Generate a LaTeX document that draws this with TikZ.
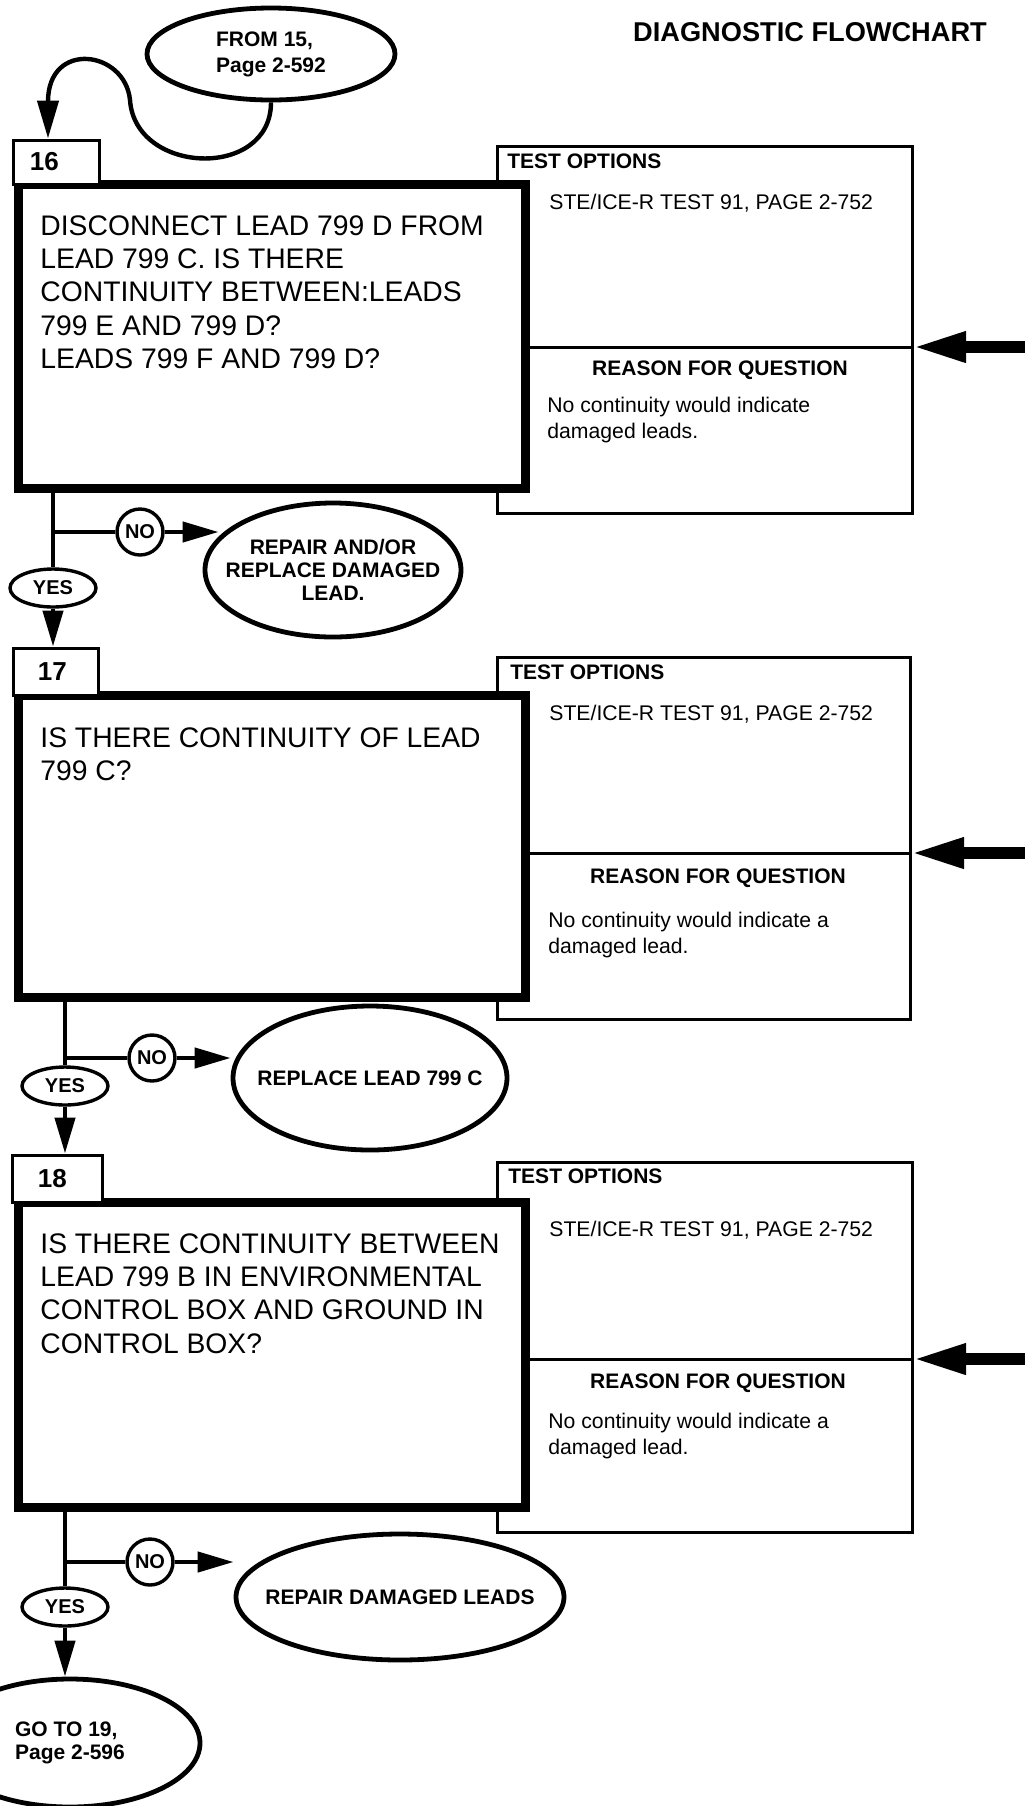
\documentclass[tikz,border=0pt]{standalone}
\usepackage{fontspec}
\setmainfont{Liberation Sans}
\usetikzlibrary{arrows.meta,shapes.geometric}

\begin{document}
\begin{tikzpicture}[x=.5pt,y=-.5pt,
  qbox/.style={draw,line width=4.5pt,fill=white,inner sep=0pt},
  optbox/.style={draw,line width=1.5pt,inner sep=0pt},
  numbox/.style={draw,line width=1.5pt,fill=white,inner sep=0pt,align=left,text width=#1,font=\bfseries\fontsize{13}{15}\selectfont},
  endoval/.style={draw,ellipse,line width=2.4pt,inner xsep=-12pt,inner ysep=0pt,align=center,font=\bfseries\fontsize{10.5}{11.5}\selectfont},
  yesoval/.style={draw,ellipse,line width=1.7pt,inner sep=0pt,minimum width=43pt,minimum height=19pt,font=\bfseries\fontsize{10}{12}\selectfont},
  nocirc/.style={draw,circle,line width=1.7pt,inner sep=0pt,minimum size=23pt,font=\bfseries\fontsize{10}{12}\selectfont},
  qtext/.style={anchor=north west,inner sep=0pt,align=left,font=\fontsize{14.15}{16.7}\selectfont},
  head/.style={inner sep=0pt,font=\bfseries\fontsize{10.5}{12.5}\selectfont},
  small/.style={inner sep=0pt,font=\fontsize{10.6}{13}\selectfont},
  link/.style={line width=2.2pt},
  flow/.style={line width=2.2pt,-{Triangle[length=18pt,width=10pt]}},
  thinline/.style={line width=1.5pt},
  sidearrow/.style={line width=6pt,-{Triangle[length=27pt,width=14pt]}}]
\useasboundingbox (0,0) rectangle (1025,1806);
\clip (0,0) rectangle (1025,1806);

\node[head,font=\bfseries\fontsize{13.6}{16}\selectfont] (title) at (810,32) {DIAGNOSTIC FLOWCHART};
\node[endoval,inner xsep=0pt,align=left,minimum width=124pt,minimum height=46pt,font=\bfseries\fontsize{10.5}{13}\selectfont] (from15) at (271,54) {FROM 15,\\Page 2-592};

% question 16
\node[optbox,minimum width=207.5pt,minimum height=183.5pt] (opt16) at (704.5,329.5) {};
\node[qbox,minimum width=253.5pt,minimum height=152pt] (q16) at (271.5,336) {};
\node[numbox=26pt,minimum width=43pt,minimum height=22pt] (lab16) at (56,162) {16};
\coordinate (d16) at (912,347);
\coordinate (s16) at (1025,347);
\draw[thinline] (q16.east |- d16) -- (d16);
\draw[sidearrow] (s16) -- (d16);
\node[qtext] (t16) at (40,215) {DISCONNECT LEAD 799 D FROM\\LEAD 799 C. IS THERE\\CONTINUITY BETWEEN:LEADS\\799 E AND 799 D?\\LEADS 799 F AND 799 D?};
\node[head,anchor=base west] (to16) at (507,168) {TEST OPTIONS};
\node[small,anchor=base west] (ste16) at (549,209) {STE/ICE-R TEST 91, PAGE 2-752};
\node[head,anchor=base] (rq16) at (720,375) {REASON FOR QUESTION};
\node[small,anchor=north west,align=left] (why16) at (547,397) {No continuity would indicate\\damaged leads.};
\draw[flow,-{Triangle[length=19pt,width=10.5pt]}] (from15.south) .. controls (271,180) and (135,175) .. (130,100)
  .. controls (125,50) and (48,40) .. ([xshift=-4pt]lab16.north);

\node[yesoval] (yes16) at (53,588) {YES};
\node[nocirc] (no16) at (140,532) {NO};
\node[endoval,minimum width=128pt,minimum height=67pt] (rep16) at (333,570) {REPAIR AND/OR\\REPLACE DAMAGED\\LEAD.};
\draw[link] (q16.south -| yes16) -- (yes16);
\draw[link] (yes16 |- no16) -- (no16);
\draw[flow] (no16) -- ([xshift=8pt]no16 -| rep16.west);

% question 17
\node[optbox,minimum width=206.5pt,minimum height=181pt] (opt17) at (703.5,838) {};
\node[qbox,minimum width=253.5pt,minimum height=151pt] (q17) at (271.5,846) {};
\node[numbox=17.5pt,minimum width=42.5pt,minimum height=23.5pt] (lab17) at (55.5,671.5) {17};
\coordinate (d17) at (910,853);
\coordinate (s17) at (1025,853);
\draw[thinline] (q17.east |- d17) -- (d17);
\draw[sidearrow] (s17) -- (d17);
\node[qtext] (t17) at (40,727) {IS THERE CONTINUITY OF LEAD\\799 C?};
\node[head,anchor=base west] (to17) at (510,679) {TEST OPTIONS};
\node[small,anchor=base west] (ste17) at (549,720) {STE/ICE-R TEST 91, PAGE 2-752};
\node[head,anchor=base] (rq17) at (718,883) {REASON FOR QUESTION};
\node[small,anchor=north west,align=left] (why17) at (548,912) {No continuity would indicate a\\damaged lead.};
\draw[flow] (yes16) -- (yes16 |- lab17.north);

\node[yesoval] (yes17) at (65,1086) {YES};
\node[nocirc] (no17) at (152,1058) {NO};
\node[endoval,minimum width=137pt,minimum height=72pt] (rep17) at (370,1078) {REPLACE LEAD 799 C};
\draw[link] (q17.south -| yes17) -- (yes17);
\draw[link] (yes17 |- no17) -- (no17);
\draw[flow] (no17) -- (no17 -| rep17.west);

% question 18
\node[optbox,minimum width=207.5pt,minimum height=185pt] (opt18) at (704.5,1347) {};
\node[qbox,minimum width=253.5pt,minimum height=152.5pt] (q18) at (271.5,1354.5) {};
\node[numbox=19pt,minimum width=45pt,minimum height=23.5pt] (lab18) at (57,1178.5) {18};
\coordinate (d18) at (912,1359);
\coordinate (s18) at (1025,1359);
\draw[thinline] (q18.east |- d18) -- (d18);
\draw[sidearrow] (s18) -- (d18);
\node[qtext] (t18) at (40,1233) {IS THERE CONTINUITY BETWEEN\\LEAD 799 B IN ENVIRONMENTAL\\CONTROL BOX AND GROUND IN\\CONTROL BOX?};
\node[head,anchor=base west] (to18) at (508,1183) {TEST OPTIONS};
\node[small,anchor=base west] (ste18) at (549,1236) {STE/ICE-R TEST 91, PAGE 2-752};
\node[head,anchor=base] (rq18) at (718,1388) {REASON FOR QUESTION};
\node[small,anchor=north west,align=left] (why18) at (548,1413) {No continuity would indicate a\\damaged lead.};
\draw[flow] (yes17) -- (yes17 |- lab18.north);

\node[yesoval] (yes18) at (65,1607) {YES};
\node[nocirc] (no18) at (150,1562) {NO};
\node[endoval,minimum width=164pt,minimum height=63pt] (rep18) at (400,1597) {REPAIR DAMAGED LEADS};
\node[endoval,inner xsep=0pt,align=left,minimum width=130pt,minimum height=64pt] (go19) at (70,1743) {GO TO 19,\\Page 2-596};
\draw[link] (q18.south -| yes18) -- (yes18);
\draw[link] (yes18 |- no18) -- (no18);
\draw[flow] (no18) -- (no18 -| rep18.west);
\draw[flow] (yes18) -- (yes18 |- go19.north);
\end{tikzpicture}
\end{document}
